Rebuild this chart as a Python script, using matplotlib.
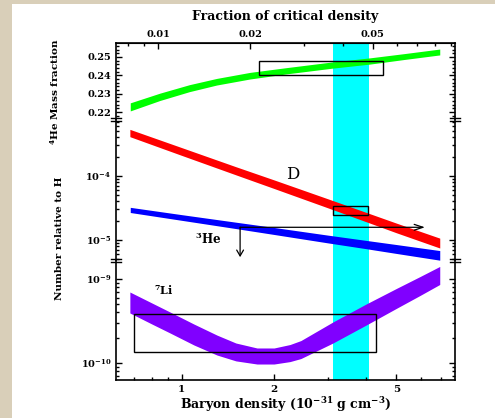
import math

import matplotlib
matplotlib.use("Agg")
import matplotlib.pyplot as plt
import matplotlib.ticker as mticker
from matplotlib.patches import Rectangle
from matplotlib.lines import Line2D

plt.rcParams["font.family"] = ["DejaVu Serif"]
plt.rcParams["font.weight"] = "bold"
plt.rcParams["axes.labelweight"] = "bold"
plt.rcParams["font.size"] = 7
plt.rcParams["mathtext.fontset"] = "dejavuserif"
plt.rcParams["mathtext.default"] = "bf"

# ── Datos (densidad bariónica en 1e-31 g cm^-3) ──────────────────────────────
he4_rho = [0.68, 0.85, 1.06, 1.3, 1.67, 2.2, 3.1, 4.1, 5.3, 6.93]
he4_lo = [0.2206, 0.2263, 0.2311, 0.2347, 0.2380, 0.2408, 0.2439, 0.2461, 0.2486, 0.2511]
he4_hi = [0.2250, 0.2303, 0.2349, 0.2383, 0.2416, 0.2442, 0.2473, 0.2495, 0.2518, 0.2543]

d_rho = [0.678, 1.0, 1.5, 2.0, 3.11, 4.0, 5.0, 6.93]
d_lo = [4.12e-4, 2.10e-4, 1.045e-4, 6.38e-5, 2.98e-5, 1.92e-5, 1.30e-5, 7.5e-6]
d_hi = [5.36e-4, 2.78e-4, 1.40e-4, 8.69e-5, 4.13e-5, 2.69e-5, 1.84e-5, 1.07e-5]

he3_rho = [0.68, 1.0, 1.5, 2.0, 3.0, 4.0, 5.0, 6.93]
he3_lo = [2.69e-5, 2.03e-5, 1.51e-5, 1.22e-5, 9.0e-6, 7.3e-6, 6.17e-6, 4.84e-6]
he3_hi = [3.24e-5, 2.49e-5, 1.90e-5, 1.57e-5, 1.19e-5, 9.84e-6, 8.5e-6, 6.84e-6]

li_rho = [0.678, 0.80, 0.916, 1.096, 1.303, 1.502, 1.76, 2.0, 2.254, 2.445,
          3.11, 3.99, 5.0, 5.98, 6.93]
li_lo = [3.94e-10, 2.91e-10, 2.28e-10, 1.64e-10, 1.245e-10, 1.06e-10, 9.73e-11, 9.73e-11,
         1.04e-10, 1.13e-10, 1.73e-10, 2.83e-10, 4.46e-10, 6.37e-10, 8.6e-10]
li_hi = [7.0e-10, 5.18e-10, 4.05e-10, 2.91e-10, 2.15e-10, 1.73e-10, 1.51e-10, 1.51e-10,
         1.66e-10, 1.85e-10, 3.08e-10, 5.04e-10, 7.7e-10, 1.07e-9, 1.41e-9]

banda_rho = (3.1, 4.08)
caja_he4 = (1.79, 4.52, 0.240, 0.248)
caja_d = (3.1, 4.05, 2.46e-5, 3.4e-5)
caja_li = (0.70, 4.30, 1.36e-10, 3.83e-10)
limite_he3 = (1.55, 6.2, 1.58e-5, 5.4e-6)
rho_crit = 83.7

# ── Figura ───────────────────────────────────────────────────────────────────
W, H = 495, 418
fig = plt.figure(figsize=(W / 100, H / 100), dpi=100)
fig.patch.set_facecolor("#d9cfb9")
fig.patches.append(Rectangle((12 / W, 0), 1, 1 - 4 / H, transform=fig.transFigure,
                             facecolor="white", edgecolor="none", zorder=-5))

x0, x1 = 116, 455
yb = [43, 119, 260, 380]


def _ejes(top, bot):
    return fig.add_axes([x0 / W, 1 - bot / H, (x1 - x0) / W, (bot - top) / H])


ax_top = _ejes(yb[0], yb[1])
ax_mid = _ejes(yb[1], yb[2])
ax_bot = _ejes(yb[2], yb[3])

for ax in (ax_top, ax_mid, ax_bot):
    ax.set_xscale("log")
    ax.set_xlim(0.611, 7.77)
    ax.set_facecolor("none")
    ax.axvspan(*banda_rho, color="#00ffff", lw=0, zorder=0)
    for s in ax.spines.values():
        s.set_linewidth(1.2)
    ax.tick_params(which="both", direction="in", left=True, right=True,
                   top=False, bottom=False, labelbottom=False, width=1.0)
    ax.tick_params(which="major", length=4.5)
    ax.tick_params(which="minor", length=2.5)

ax_top.spines["bottom"].set_visible(False)
ax_mid.spines["top"].set_visible(False)
ax_mid.spines["bottom"].set_visible(False)
ax_bot.spines["top"].set_visible(False)

# ── Panel He-4 ───────────────────────────────────────────────────────────────
ax_top.fill_between(he4_rho, he4_lo, he4_hi, color="#00ff00", lw=0)
ax_top.add_patch(Rectangle((caja_he4[0], caja_he4[2]), caja_he4[1] - caja_he4[0],
                           caja_he4[3] - caja_he4[2], fill=False, lw=1.0, ec="black"))
ax_top.set_ylim(0.2162, 0.2576)
ax_top.yaxis.set_major_locator(mticker.MultipleLocator(0.01))
ax_top.yaxis.set_minor_locator(mticker.MultipleLocator(0.002))
ax_top.yaxis.set_major_formatter(mticker.FormatStrFormatter("%.2f"))

sec = ax_top.secondary_xaxis("top", functions=(lambda r: r / rho_crit, lambda f: f * rho_crit))
sec.set_xticks([0.01, 0.02, 0.05])
sec.set_xticklabels(["0.01", "0.02", "0.05"])
sec.xaxis.set_minor_formatter(mticker.NullFormatter())
sec.tick_params(which="both", direction="in", width=1.0, pad=3)
sec.tick_params(which="major", length=4.5)
sec.tick_params(which="minor", length=2.5)
sec.set_xlabel("Fraction of critical density", labelpad=7, fontsize=9, fontweight="bold")

# ── Panel D y He-3 ───────────────────────────────────────────────────────────
ax_mid.set_yscale("log")
ax_mid.fill_between(d_rho, d_lo, d_hi, color="#ff0000", lw=0)
ax_mid.fill_between(he3_rho, he3_lo, he3_hi, color="#0000ff", lw=0)
ax_mid.add_patch(Rectangle((caja_d[0], caja_d[2]), caja_d[1] - caja_d[0],
                           caja_d[3] - caja_d[2], fill=False, lw=1.0, ec="black"))
ax_mid.annotate("", xy=(limite_he3[1], limite_he3[2]), xytext=(limite_he3[0], limite_he3[2]),
                arrowprops=dict(arrowstyle="->,head_length=0.9,head_width=0.3",
                                lw=0.9, color="black", shrinkA=0, shrinkB=0))
ax_mid.annotate("", xy=(limite_he3[0], limite_he3[3]), xytext=(limite_he3[0], limite_he3[2]),
                arrowprops=dict(arrowstyle="->,head_length=0.6,head_width=0.35",
                                lw=0.9, color="black", shrinkA=0, shrinkB=0))
ax_mid.set_ylim(10 ** -5.3125, 10 ** -3.109)
ax_mid.text(2.30, 1.07e-4, "D", fontsize=12, fontweight="normal", ha="center", va="center")
ax_mid.text(1.22, 1.05e-5, "$^3$He", fontsize=8.5, ha="center", va="center")

# ── Panel Li-7 ───────────────────────────────────────────────────────────────
ax_bot.set_yscale("log")
ax_bot.fill_between(li_rho, li_lo, li_hi, color="#8000ff", lw=0)
ax_bot.add_patch(Rectangle((caja_li[0], caja_li[2]), caja_li[1] - caja_li[0],
                           caja_li[3] - caja_li[2], fill=False, lw=1.0, ec="black"))
ax_bot.set_ylim(10 ** -10.202, 10 ** -8.774)
ax_bot.text(0.876, 7.4e-10, "$^7$Li", fontsize=8, ha="center", va="center")

ax_bot.tick_params(which="both", bottom=True, labelbottom=True)
ax_bot.tick_params(axis="x", labelsize=7.5)
ax_bot.set_xticks([1, 2, 5])
ax_bot.set_xticklabels(["1", "2", "5"])
ax_bot.xaxis.set_minor_locator(mticker.LogLocator(subs=range(2, 10)))
ax_bot.xaxis.set_minor_formatter(mticker.NullFormatter())
ax_bot.set_xlabel("Baryon density (10$^{-31}$ g cm$^{-3}$)", fontsize=9,
                  fontweight="bold", labelpad=1)

for ax in (ax_mid, ax_bot):
    ax.yaxis.set_major_locator(mticker.LogLocator(base=10))
    ax.yaxis.set_minor_locator(mticker.LogLocator(base=10, subs=range(2, 10)))
    ax.yaxis.set_minor_formatter(mticker.NullFormatter())
    ax.yaxis.set_major_formatter(mticker.FuncFormatter(
        lambda v, _: r"$10^{%d}$" % round(math.log10(v))))

# Marcas de corte entre paneles
for yy in yb[1:3]:
    for xx in (x0, x1):
        for dy in (-1.5, 1.5):
            fig.add_artist(Line2D([(xx - 5) / W, (xx + 5) / W], [1 - (yy + dy) / H] * 2,
                                  color="black", lw=1.0))

fig.text(55 / W, 1 - 92 / H, "$^4$He Mass fraction", rotation=90,
         ha="center", va="center", fontsize=7.5)
fig.text(60 / W, 1 - 238 / H, "Number relative to H", rotation=90,
         ha="center", va="center", fontsize=7.5)

plt.savefig("out.png", dpi=100, facecolor=fig.get_facecolor())
plt.close()
